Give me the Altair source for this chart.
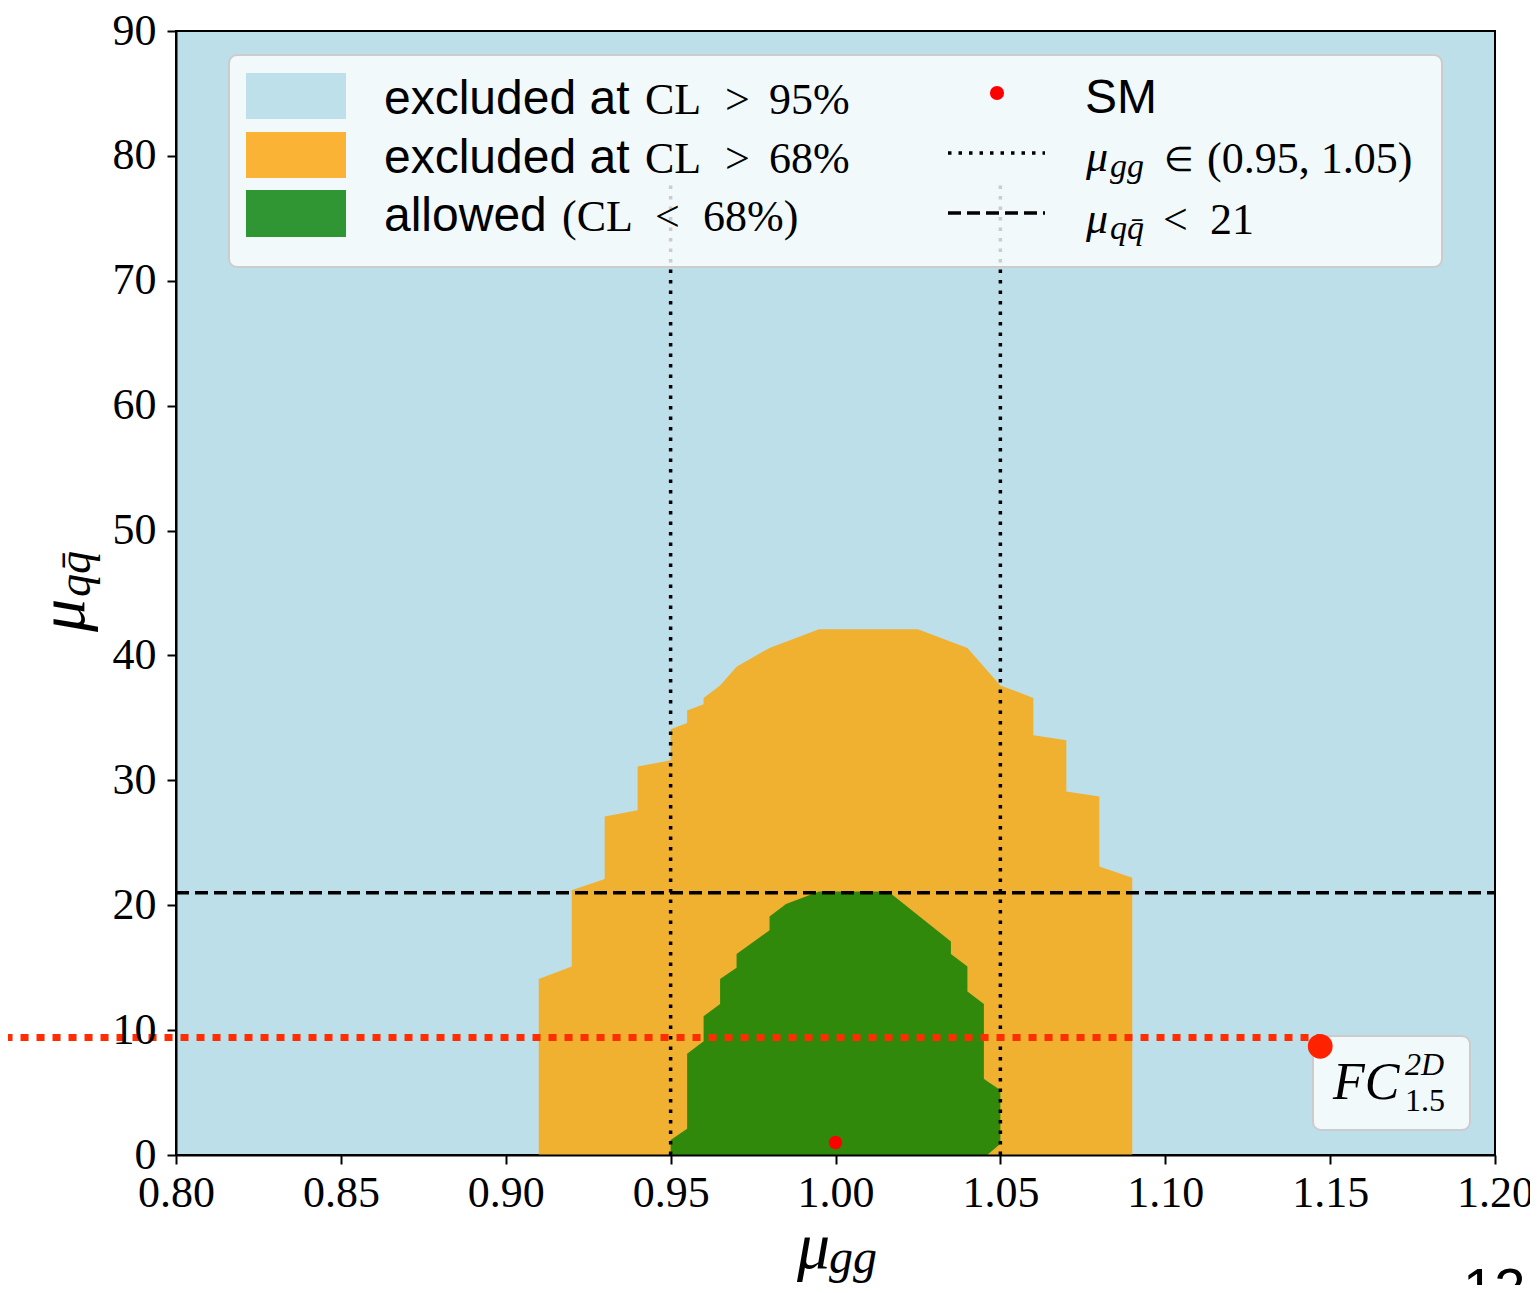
import altair as alt
import pandas as pd

# ---------------- data ----------------
X_TICKS = [0.80, 0.85, 0.90, 0.95, 1.00, 1.05, 1.10, 1.15, 1.20]
Y_TICKS = [0, 10, 20, 30, 40, 50, 60, 70, 80, 90]

# 68% exclusion region (orange): upper boundary, bottom at 0
ORANGE_X = [0.910, 0.920, 0.920, 0.930, 0.930, 0.940, 0.940, 0.950, 0.950, 0.955,
            0.955, 0.960, 0.960, 0.965, 0.970, 0.980, 0.995, 1.025, 1.040, 1.050,
            1.060, 1.060, 1.070, 1.070, 1.080, 1.080, 1.090]
ORANGE_TOP = [14.1, 15.1, 21.2, 22.1, 27.1, 27.6, 31.1, 31.6, 34.1, 34.6,
              35.6, 36.1, 36.6, 37.6, 39.1, 40.6, 42.1, 42.1, 40.6, 37.6,
              36.6, 33.6, 33.2, 29.1, 28.7, 23.1, 22.2]

# allowed region (green)
GREEN_X = [0.950, 0.955, 0.955, 0.960, 0.960, 0.965, 0.965, 0.970, 0.970, 0.980,
           0.980, 0.985, 0.995, 1.016, 1.035, 1.035, 1.040, 1.040, 1.045, 1.045,
           1.046, 1.050]
GREEN_TOP = [1.2, 2.1, 8.1, 9.1, 11.1, 12.1, 14.1, 15.0, 16.1, 18.0,
             19.1, 20.1, 21.1, 21.1, 17.1, 16.1, 15.1, 13.1, 12.1, 6.1,
             5.9, 5.2]
GREEN_BOTTOM = [0, 0, 0, 0, 0, 0, 0, 0, 0, 0,
                0, 0, 0, 0, 0, 0, 0, 0, 0, 0,
                0, 0.9]

SM_X, SM_Y = [1.00], [1.0]
FC_X, FC_Y = [1.147], [8.7]
FC_LINE_X = [0.748, 1.147]
FC_LINE_Y = [9.4, 9.4]
MUGG_BOUNDS = [0.95, 1.05]
MUGG_LINE_TOP = [78, 78]
MUQQ_LIMIT = [21]

LEGEND_LEFT = [("excluded at", "CL", ">", "95%"),
               ("excluded at", "CL", ">", "68%"),
               ("allowed", "(CL", "<", "68%)")]
LEGEND_RIGHT_SM = "SM"
FC_LABEL = ("FC", "2D", "1.5")
PAGE_NUMBER = "12"

# ---------------- styling ----------------
BLUE_BG = "#bddfea"
ORANGE = "#f0b030"
GREEN = "#30890b"
LEG_BLUE = "#bde0eb"
LEG_ORANGE = "#fbb335"
LEG_GREEN = "#2f9633"
SERIF = "Liberation Serif"
SANS = "Liberation Sans"

W, H = 1319, 1124
PAD = {"left": 168, "top": 23, "right": 35, "bottom": 130}
OX, OY = 8 + PAD["left"], 8 + PAD["top"]

xscale = alt.Scale(domain=[0.8, 1.2], nice=False, zero=False)
yscale = alt.Scale(domain=[0, 90], nice=False, zero=False)

xaxis = alt.Axis(values=X_TICKS, format=".2f", title=None, grid=False,
                 labelFont=SERIF, labelFontSize=44, labelColor="black",
                 tickColor="black", tickWidth=2, tickSize=9, labelPadding=7,
                 domainColor="black", domainWidth=2, labelFlush=False, zindex=1)
yaxis = alt.Axis(values=Y_TICKS, format="d", title=None, grid=False,
                 labelFont=SERIF, labelFontSize=44, labelColor="black",
                 tickColor="black", tickWidth=2, tickSize=9, labelPadding=11,
                 domainColor="black", domainWidth=2, labelFlush=False, zindex=1)

dummy = pd.DataFrame({"d": [0]})


def text(s, px, py, font=SERIF, size=44, style="normal", angle=0, color="black"):
    return alt.Chart(dummy).mark_text(
        text=s, font=font, fontSize=size, fontStyle=style, align="left",
        baseline="alphabetic", angle=angle, color=color
    ).encode(x=alt.value(px - OX), y=alt.value(py - OY))


def box(x0, y0, x1, y1, **kw):
    return alt.Chart(dummy).mark_rect(**kw).encode(
        x=alt.value(x0 - OX), x2=alt.value(x1 - OX),
        y=alt.value(y0 - OY), y2=alt.value(y1 - OY))


def hseg(x0, x1, y, **kw):
    return alt.Chart(dummy).mark_rule(**kw).encode(
        x=alt.value(x0 - OX), x2=alt.value(x1 - OX), y=alt.value(y - OY))


# ---------------- regions ----------------
orange_df = pd.DataFrame({"mx": ORANGE_X, "hi": ORANGE_TOP,
                          "lo": [0.0] * len(ORANGE_X)})
green_df = pd.DataFrame({"mx": GREEN_X, "hi": GREEN_TOP, "lo": GREEN_BOTTOM})

orange = alt.Chart(orange_df).mark_area(color=ORANGE, opacity=1).encode(
    x=alt.X("mx:Q", scale=xscale, axis=xaxis),
    y=alt.Y("hi:Q", scale=yscale, axis=yaxis),
    y2=alt.Y2("lo:Q"),
)
green = alt.Chart(green_df).mark_area(color=GREEN, opacity=1).encode(
    x=alt.X("mx:Q", scale=xscale),
    y=alt.Y("hi:Q", scale=yscale),
    y2=alt.Y2("lo:Q"),
)

vlines = alt.Chart(pd.DataFrame({"x": MUGG_BOUNDS, "y0": [0, 0], "y1": MUGG_LINE_TOP})).mark_rule(
    color="black", strokeWidth=3.5, strokeDash=[3.5, 7]
).encode(x=alt.X("x:Q", scale=xscale), y=alt.Y("y0:Q", scale=yscale), y2="y1:Q")

hline = alt.Chart(pd.DataFrame({"y": MUQQ_LIMIT, "x0": [0.8], "x1": [1.2]})).mark_rule(
    color="black", strokeWidth=3.5, strokeDash=[13, 6]
).encode(x=alt.X("x0:Q", scale=xscale), x2="x1:Q", y=alt.Y("y:Q", scale=yscale))

sm = alt.Chart(pd.DataFrame({"x": SM_X, "y": SM_Y})).mark_point(
    filled=True, color="#ff0000", size=180, opacity=1, shape="circle"
).encode(x=alt.X("x:Q", scale=xscale), y=alt.Y("y:Q", scale=yscale))

fc_line = alt.Chart(pd.DataFrame({"x": FC_LINE_X, "y": FC_LINE_Y})).mark_line(
    color="#ff2d00", strokeWidth=7, strokeDash=[8, 8]
).encode(x=alt.X("x:Q", scale=xscale), y=alt.Y("y:Q", scale=yscale))

fc_dot = alt.Chart(pd.DataFrame({"x": FC_X, "y": FC_Y})).mark_point(
    filled=True, color="#ff2200", size=615, opacity=1, shape="circle"
).encode(x=alt.X("x:Q", scale=xscale), y=alt.Y("y:Q", scale=yscale))

# ---------------- legend ----------------
layers = [orange, green, vlines, hline, sm]

layers.append(box(229, 55, 1442, 267, fill="white", fillOpacity=0.8,
                  stroke="#cccccc", strokeWidth=2, cornerRadius=8))
for (y0, y1), col in zip([(73, 119), (132, 178), (190, 237)], [LEG_BLUE, LEG_ORANGE, LEG_GREEN]):
    layers.append(box(246, y0, 346, y1, fill=col))

row_base = [114, 173, 231]
pos_full = [(645, 725, 769), (645, 725, 769), (562, 655, 703)]
for (sans_t, a, b, c), yb, (xa, xb, xc) in zip(LEGEND_LEFT, row_base, pos_full):
    layers.append(text(sans_t, 384, yb, font=SANS, size=48))
    layers.append(text(a, xa, yb))
    layers.append(text(b, xb, yb))
    layers.append(text(c, xc, yb))

layers.append(alt.Chart(dummy).mark_point(filled=True, color="#ff0000", size=200, opacity=1)
              .encode(x=alt.value(997 - OX), y=alt.value(93 - OY)))
layers.append(hseg(948, 1045, 153, color="black", strokeWidth=3.5, strokeDash=[3.5, 7]))
layers.append(hseg(948, 1045, 213, color="black", strokeWidth=3.5, strokeDash=[13, 6]))

layers.append(text(LEGEND_RIGHT_SM, 1085, 113, font=SANS, size=48))
layers.append(text("μ", 1086, 171, size=44, style="italic"))
layers.append(text("gg", 1110, 177, size=34, style="italic"))
layers.append(text("∈", 1164, 171, size=34))
layers.append(text("(0.95, 1.05)", 1207, 173))
layers.append(text("μ", 1086, 233, size=44, style="italic"))
layers.append(text("qq\u0304", 1110, 239, size=34, style="italic"))
layers.append(text("<", 1163, 234))
layers.append(text("21", 1210, 234))

# ---------------- FC annotation ----------------
layers.append(box(1313, 1036, 1470, 1130, fill="white", fillOpacity=0.8,
                  stroke="#cccccc", strokeWidth=2, cornerRadius=8))
layers.append(fc_line)
layers.append(fc_dot)
layers.append(text(FC_LABEL[0], 1333, 1099, size=52, style="italic"))
layers.append(text(FC_LABEL[1], 1405, 1075, size=32, style="italic"))
layers.append(text(FC_LABEL[2], 1405, 1111, size=32))

# ---------------- axis titles ----------------
layers.append(text("μ", 797, 1268, size=66, style="italic"))
layers.append(text("gg", 829, 1273, size=48, style="italic"))
layers.append(text("μ", 84, 632, size=66, style="italic", angle=270))
layers.append(text("qq\u0304", 90, 597, size=46, style="italic", angle=270))

layers.append(text(PAGE_NUMBER, 1463, 1307, font=SANS, size=56))

chart = alt.layer(*layers).properties(
    width=W, height=H,
    autosize=alt.AutoSizeParams(type="none"),
    padding=PAD,
).configure_view(fill=BLUE_BG, stroke="black", strokeWidth=2)

chart.save("out.html", embed_options={"renderer": "svg", "actions": False})
